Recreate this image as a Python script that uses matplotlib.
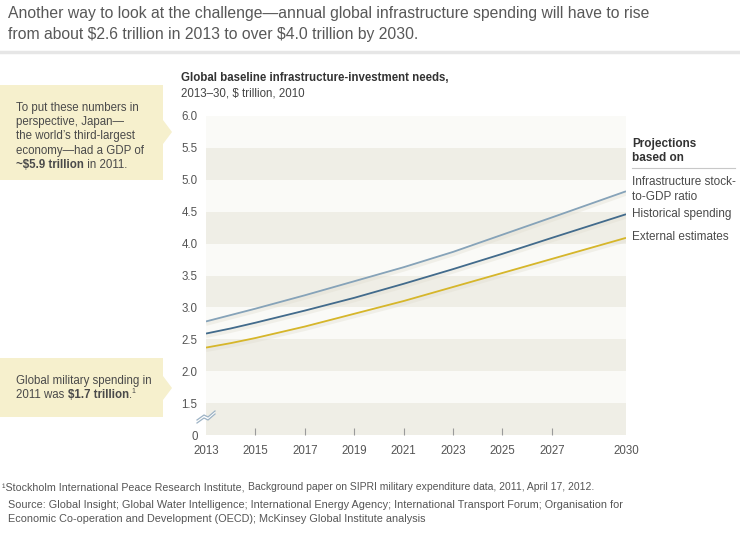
import matplotlib
matplotlib.use('Agg')
import matplotlib.pyplot as plt
from matplotlib.patches import Polygon
from matplotlib.lines import Line2D
from matplotlib.text import Annotation
import matplotlib.transforms as mtransforms

plt.rcParams.update({
    'font.family': ['Liberation Sans', 'DejaVu Sans'],
    'font.size': 8.3,
    'text.color': '#4a4a4a',
})

# Data
years = [2013, 2014, 2015, 2017, 2019, 2021, 2023, 2025, 2027, 2030]
stock_to_gdp = [2.78, 2.88, 2.98, 3.19, 3.41, 3.63, 3.87, 4.14, 4.41, 4.82]
historical = [2.59, 2.67, 2.76, 2.95, 3.15, 3.37, 3.60, 3.84, 4.09, 4.46]
external = [2.37, 2.44, 2.52, 2.70, 2.90, 3.10, 3.32, 3.54, 3.76, 4.09]

series_labels = ['Infrastructure stock-\nto-GDP ratio', 'Historical spending', 'External estimates']
xtick_years = [2013, 2015, 2017, 2019, 2021, 2023, 2025, 2027, 2030]
ytick_vals = [1.0, 1.5, 2.0, 2.5, 3.0, 3.5, 4.0, 4.5, 5.0, 5.5, 6.0]
ytick_labels = ['0', '1.5', '2.0', '2.5', '3.0', '3.5', '4.0', '4.5', '5.0', '5.5', '6.0']

W, H = 740, 555
fig = plt.figure(figsize=(W / 100, H / 100), dpi=100)


def fx(x):
    return x / W


def fy(y):
    return 1 - y / H


def ftext(x, y, s, **kw):
    kw.setdefault('va', 'baseline')
    return fig.text(fx(x), fy(y), s, parse_math=False, zorder=5, **kw)


def after(prev, s, **kw):
    # text that continues right after another one on the same line
    a = Annotation(s, xy=(1, 0), xycoords=prev, va='bottom', ha='left',
                   parse_math=False, zorder=5, **kw)
    fig.add_artist(a)
    return a


# header
ftext(8, 18, 'Another way to look at the challenge\u2014annual global infrastructure spending will have to rise',
      fontsize=11.35, color='#585858')
ftext(8, 39, 'from about $2.6 trillion in 2013 to over $4.0 trillion by 2030.',
      fontsize=11.35, color='#585858')
fig.add_artist(Line2D([0, 1], [fy(52), fy(52)], color='#e6e6e6', lw=2.5, transform=fig.transFigure))

# plot area
ax = fig.add_axes([fx(206), fy(435), fx(420), 319 / H])
ax.set_xlim(2013, 2030)
ax.set_ylim(1.0, 6.0)
for i in range(len(ytick_vals) - 1):
    c = '#fafaf7' if (len(ytick_vals) - 2 - i) % 2 == 0 else '#efeee6'
    ax.axhspan(ytick_vals[i], ytick_vals[i + 1], color=c, lw=0, zorder=0)

shadow = mtransforms.offset_copy(ax.transData, fig=fig, x=0, y=-2, units='dots')
for vals, col in [(stock_to_gdp, '#86a3b9'), (historical, '#426b8c'), (external, '#d6b62a')]:
    ax.plot(years, vals, color='#dedbcd', lw=3.5, alpha=0.35, transform=shadow, zorder=2,
            solid_capstyle='butt')
    ax.plot(years, vals, color=col, lw=1.3, zorder=3, solid_capstyle='butt')

for s in ax.spines.values():
    s.set_visible(False)
ax.set_xticks(xtick_years)
ax.set_xticklabels([str(y) for y in xtick_years])
ax.set_yticks(ytick_vals)
ax.set_yticklabels(ytick_labels)
ax.tick_params(axis='x', direction='in', length=5, width=0.8, color='#9a9a9a',
               labelsize=8.3, labelcolor='#555555', pad=7)
ax.tick_params(axis='y', length=0, labelsize=8.3, labelcolor='#555555', pad=6)
xt = ax.xaxis.get_major_ticks()
xt[0].tick1line.set_visible(False)
xt[-1].tick1line.set_visible(False)

# axis break mark
zz = [(197, 423), (204, 418), (208, 420), (215, 414)]
lo = [(fx(x), fy(y)) for x, y in zz]
hi = [(fx(x), fy(y - 3)) for x, y in zz]
fig.add_artist(Polygon(lo + hi[::-1], closed=True, facecolor='white', edgecolor='none',
                       transform=fig.transFigure))
for pts in (lo, hi):
    fig.add_artist(Line2D([p[0] for p in pts], [p[1] for p in pts], color='#9db3c5', lw=0.9,
                          transform=fig.transFigure))

# chart title
ftext(181, 81, 'Global baseline infrastructure-investment needs,', fontweight='bold', color='#333333')
ftext(181, 97, '2013\u201330, $ trillion, 2010', color='#444444')

# legend
ftext(632, 147, 'Projections', fontweight='bold', fontsize=8.5, color='#333333')
ftext(632, 161, 'based on', fontweight='bold', fontsize=8.5, color='#333333')
fig.add_artist(Line2D([fx(632), fx(735)], [fy(167.5), fy(167.5)], color='#c8c8c8', lw=0.8,
                      transform=fig.transFigure))
ftext(632, 185, 'Infrastructure stock-', fontsize=8.5)
ftext(632, 199.5, 'to-GDP ratio', fontsize=8.5)
ftext(632, 216.5, series_labels[1], fontsize=8.5)
ftext(632, 239.5, series_labels[2], fontsize=8.5)

# callout boxes
box_col = '#f6f0cd'
fig.add_artist(Polygon([(fx(x), fy(y)) for x, y in
                        [(0, 85), (163, 85), (163, 120), (172, 132), (163, 144), (163, 180), (0, 180)]],
                       closed=True, facecolor=box_col, edgecolor='none', transform=fig.transFigure))
fig.add_artist(Polygon([(fx(x), fy(y)) for x, y in
                        [(0, 358), (163, 358), (163, 376), (172, 388), (163, 400), (163, 417), (0, 417)]],
                       closed=True, facecolor=box_col, edgecolor='none', transform=fig.transFigure))

ftext(16, 110.5, 'To put these numbers in')
ftext(16, 125, 'perspective, Japan\u2014')
ftext(16, 139.5, 'the world\u2019s third-largest')
ftext(16, 154, 'economy\u2014had a GDP of')
t = ftext(16, 168.5, '~$5.9 trillion', fontweight='bold')
after(t, ' in 2011.', fontsize=8.3)

ftext(16, 384, 'Global military spending in')
t2 = ftext(16, 398.5, '2011 was ')
t3 = after(t2, '$1.7 trillion', fontsize=8.3, fontweight='bold')
t4 = after(t3, '.', fontsize=8.3)
fig.add_artist(Annotation('1', xy=(1, 0.55), xycoords=t4, va='bottom', ha='left', fontsize=5,
                          zorder=5))

# footnotes
f1 = ftext(2, 490, '\u00b9Stockholm International Peace Research Institute, ', fontsize=7.7, color='#555555')
after(f1, 'Background paper on SIPRI military expenditure data, 2011, April 17, 2012.',
      fontsize=7.5, color='#555555', family=['Liberation Sans Narrow', 'Liberation Sans'])
ftext(8, 508, 'Source: Global Insight; Global Water Intelligence; International Energy Agency; '
      'International Transport Forum; Organisation for', fontsize=7.85, color='#555555')
ftext(8, 522, 'Economic Co-operation and Development (OECD); McKinsey Global Institute analysis',
      fontsize=7.85, color='#555555')

fig.savefig('out.png', dpi=100)
